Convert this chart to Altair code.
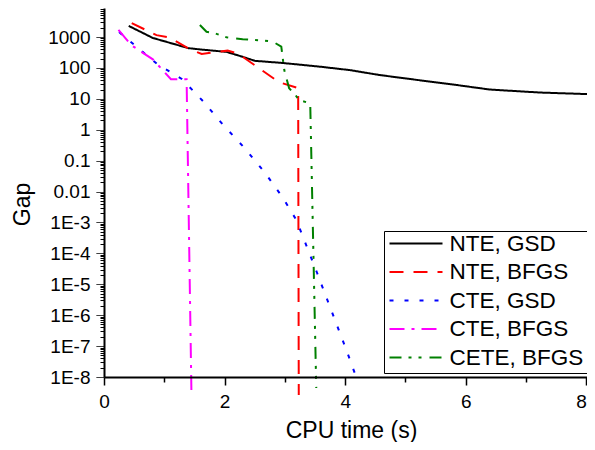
import altair as alt
import pandas as pd

# ---- data ----
series_names = ["NTE, GSD", "NTE, BFGS", "CTE, GSD", "CTE, BFGS", "CETE, BFGS"]
series_colors = ["#000000", "#FF0000", "#0000FF", "#FF00FF", "#008000"]
series_dashes = [[1, 0], [14, 10], [4, 11], [15, 7, 3, 7], [12, 7, 3, 7, 3, 8]]

nte_gsd_t = [0.41, 0.81, 1.40, 1.59, 2.03, 2.30, 2.50, 2.96, 3.58, 4.08, 4.57, 5.19, 5.85, 6.40, 7.23, 8.14]
nte_gsd_gap = [2290, 933, 437, 398, 331, 229, 170, 145, 110, 85, 59, 41, 28, 20, 16, 14]

nte_bfgs_t = [0.46, 0.87, 1.08, 1.40, 1.62, 2.05, 2.22, 2.90, 3.22, 3.23]
nte_bfgs_gap = [2820, 1150, 977, 427, 282, 363, 295, 34.7, 22.4, 2.6e-9]

cte_gsd_t = [0.25, 0.88, 1.29, 1.64, 1.98, 2.33, 2.66, 2.96, 3.19, 3.53, 4.02, 4.19]
cte_gsd_gap = [1450, 135, 44, 8.5, 1.41, 0.257, 0.0427, 0.0066, 0.0012, 2.45e-5, 7.4e-8, 9.1e-9]

cte_bfgs_t = [0.24, 0.45, 0.81, 1.11, 1.37, 1.45]
cte_bfgs_gap = [1700, 550, 190, 43, 43, 3.2e-9]

cete_bfgs_t = [1.59, 1.70, 1.84, 2.03, 2.30, 2.67, 2.80, 2.94, 2.99, 3.07, 3.18, 3.23, 3.42, 3.52]
cete_bfgs_gap = [2450, 1480, 1320, 980, 850, 760, 710, 490, 85, 22, 13, 9.1, 7.2, 4.4e-9]

x_ticks = [0, 1, 2, 3, 4, 5, 6, 7, 8]
x_max = 8.01
y_decades = [-8, -7, -6, -5, -4, -3, -2, -1, 0, 1, 2, 3]
y_mults = [1, 2, 3, 4, 5, 6, 7, 8, 9]
y_top = 8700

all_t = [nte_gsd_t, nte_bfgs_t, cte_gsd_t, cte_bfgs_t, cete_bfgs_t]
all_gap = [nte_gsd_gap, nte_bfgs_gap, cte_gsd_gap, cte_bfgs_gap, cete_bfgs_gap]

rows = []
for name, ts, gs in zip(series_names, all_t, all_gap):
    for i, (t, g) in enumerate(zip(ts, gs)):
        rows.append({"series": name, "t": t, "gap": g, "idx": i})
df = pd.DataFrame(rows)

y_tick_values = [m * 10.0 ** k for k in y_decades for m in y_mults if m * 10.0 ** k <= y_top]

FONT = "Liberation Sans"
is_pow = "abs(log(datum.value)/LN10 - round(log(datum.value)/LN10)) < 0.001"
e_expr = "round(log(datum.value)/LN10)"
y_label_expr = (
    f"({is_pow}) ? ({e_expr} >= 0 ? format(datum.value, 'd') : "
    f"({e_expr} >= -2 ? format(datum.value, '.' + (-{e_expr}) + 'f') : '1E' + {e_expr})) : ''"
)

x_axis = alt.Axis(
    values=x_ticks,
    title="CPU time (s)",
    labelExpr="datum.value % 2 == 0 ? datum.label : ''",
    labelAlign={"condition": {"test": "datum.value == 8", "value": "right"}, "value": "center"},
    tickSize=8,
    tickDash={"condition": {"test": "datum.value % 2 != 0", "value": [5, 30]}, "value": [1, 0]},
    labelPadding=7,
    labelFlush=False,
    labelOverlap=False,
    grid=False,
    domainColor="black",
    domainWidth=2,
    tickColor="black",
    tickWidth=1.5,
    labelColor="black",
    labelFont=FONT,
    labelFontSize=19,
    titleFont=FONT,
    titleFontSize=23,
    titleFontWeight="normal",
    titleColor="black",
    titleX=247,
    titleY=60,
    titleAlign="center",
    titleBaseline="alphabetic",
    zindex=2,
)

y_axis = alt.Axis(
    values=y_tick_values,
    title="Gap",
    labelExpr=y_label_expr,
    tickSize=8,
    tickDash={"condition": {"test": f"!({is_pow})", "value": [4, 30]}, "value": [1, 0]},
    labelPadding=6,
    labelFlush=False,
    labelOverlap=False,
    grid=False,
    domainColor="black",
    domainWidth=2,
    tickColor="black",
    tickWidth=1,
    labelColor="black",
    labelFont=FONT,
    labelFontSize=19,
    titleFont=FONT,
    titleFontSize=23,
    titleFontWeight="normal",
    titleColor="black",
    titleAngle=270,
    titleX=-75,
    titleY=196,
    titleAlign="center",
    titleBaseline="alphabetic",
)

legend = alt.Legend(
    title=None,
    orient="none",
    legendX=280,
    legendY=223,
    strokeColor="black",
    fillColor="white",
    padding=3.5,
    clipHeight=18,
    rowPadding=5.5,
    symbolType="stroke",
    symbolSize=2809,
    symbolStrokeWidth=2,
    symbolOffset=1,
    labelFont=FONT,
    labelFontSize=22.5,
    labelColor="black",
    labelOffset=6,
    cornerRadius=0,
    zindex=1,
)

chart = (
    alt.Chart(df)
    .mark_line(strokeWidth=2, strokeCap="butt", clip=False)
    .encode(
        x=alt.X("t:Q", scale=alt.Scale(domain=[0, x_max], nice=False, zero=False), axis=x_axis),
        y=alt.Y("gap:Q", scale=alt.Scale(type="log", domain=[1e-8, y_top], nice=False), axis=y_axis),
        color=alt.Color("series:N", scale=alt.Scale(domain=series_names, range=series_colors), legend=legend),
        strokeDash=alt.StrokeDash("series:N", scale=alt.Scale(domain=series_names, range=series_dashes), legend=legend),
        order=alt.Order("idx:Q"),
    )
    .properties(
        width=483,
        height=369,
        autosize=alt.AutoSizeParams(type="none"),
        padding={"left": 96, "top": 0, "right": 0, "bottom": 65},
    )
    .configure(font=FONT)
    .configure_view(stroke=None)
)

chart.save("out.html", embed_options={"renderer": "svg", "actions": False})
